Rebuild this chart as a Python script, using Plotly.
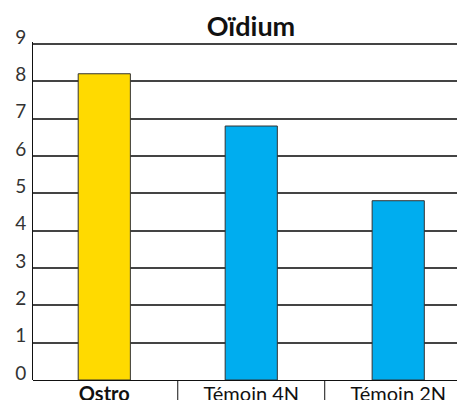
import plotly.graph_objects as go

categories = ["Ostro", "Témoin 4N", "Témoin 2N"]
tick_labels = ["<b>Ostro</b>", "Témoin 4N", "Témoin 2N"]
values = [8.2, 6.8, 4.8]
colors = ["#FFDA00", "#00ADEF", "#00ADEF"]
y_ticks = [0, 1, 2, 3, 4, 5, 6, 7, 8, 9]

W, H = 457, 400
ml, mr, mt, mb = 33, 0, 42, 20

fig = go.Figure(
    go.Bar(
        x=categories,
        y=values,
        marker=dict(color=colors, line=dict(color="#333333", width=1)),
        width=0.355,
        hoverinfo="skip",
    )
)

fig.update_layout(
    width=W,
    height=H,
    margin=dict(l=ml, r=mr, t=mt, b=mb, pad=0),
    paper_bgcolor="white",
    plot_bgcolor="white",
    showlegend=False,
    font=dict(family="Lato", color="#222222"),
    title=dict(
        text="<b>Oïdium</b>",
        x=251 / W,
        xref="container",
        xanchor="center",
        y=1 - 27 / H,
        yref="container",
        yanchor="middle",
        font=dict(size=27, color="#111111", family="Lato"),
    ),
)

fig.update_xaxes(
    type="category",
    range=[-0.485, 2.40],
    tickmode="array",
    tickvals=categories,
    ticktext=tick_labels,
    tickfont=dict(size=20, color="#111111"),
    showgrid=False,
    showline=False,
    ticks="",
    automargin=False,
    fixedrange=True,
)

fig.update_yaxes(
    range=[0, 9.05],
    tickmode="array",
    tickvals=y_ticks,
    ticktext=[str(v) for v in y_ticks],
    tickfont=dict(size=19, color="#333333"),
    ticklabelshift=-7,
    ticklabelstandoff=2,
    ticks="",
    showgrid=True,
    gridcolor="#444444",
    gridwidth=1.5,
    zeroline=True,
    zerolinecolor="#111111",
    zerolinewidth=1,
    showline=True,
    linecolor="#111111",
    linewidth=1,
    automargin=False,
    fixedrange=True,
)

# vertical separators between category labels below the axis
for xv in [0.5, 1.5]:
    fig.add_shape(
        type="line",
        xref="x",
        yref="paper",
        x0=xv,
        x1=xv,
        y0=0,
        y1=-mb / (H - mt - mb),
        line=dict(color="#111111", width=1),
    )

fig.write_html(
    "out.html",
    config={"displayModeBar": False},
    post_script="document.body.style.margin='0';document.body.style.overflow='hidden';",
)
